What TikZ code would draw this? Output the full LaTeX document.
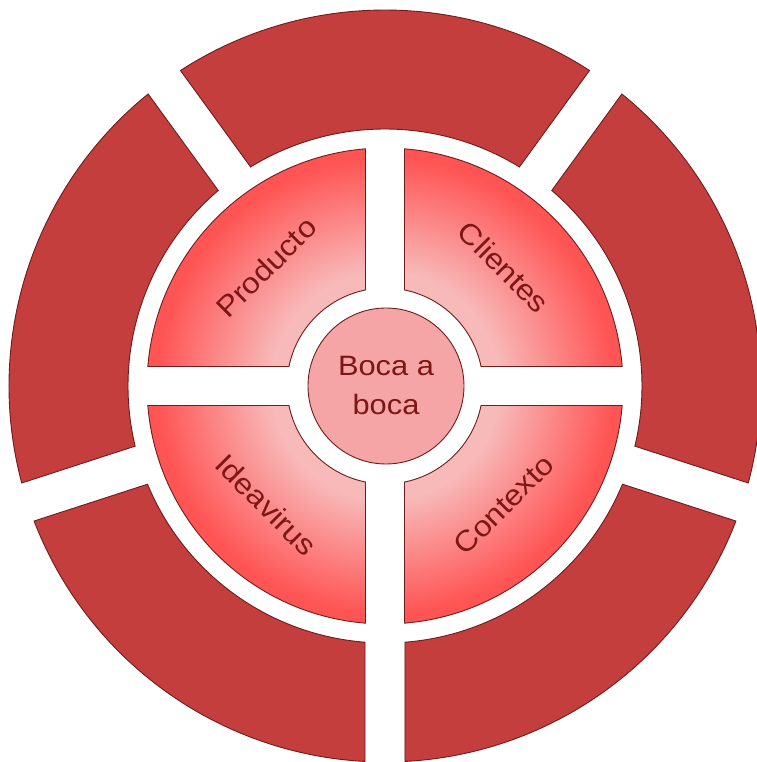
\documentclass[tikz,border=0pt]{standalone}
\usepackage{fontspec}
\setmainfont[FakeStretch=1.1]{Liberation Sans}
\definecolor{ringred}{RGB}{196,62,62}
\definecolor{ringline}{RGB}{110,28,28}
\definecolor{seclight}{RGB}{248,185,185}
\definecolor{secred}{RGB}{255,84,84}
\definecolor{hubfill}{RGB}{245,165,165}
\definecolor{txtred}{RGB}{125,22,22}
\pgfdeclareradialshading{secshade}{\pgfpoint{0bp}{0bp}}{%
  color(0bp)=(seclight); color(12bp)=(seclight); color(24bp)=(secred); color(50bp)=(secred)}
\tikzset{
  ringseg/.style={fill=ringred, draw=ringline, line width=0.9pt},
  secline/.style={draw=ringline, line width=0.9pt},
  seclabel/.style={font=\fontsize{29}{34}\selectfont, text=txtred},
  hub/.style={circle, fill=hubfill, draw=ringline, line width=0.9pt, minimum size=156pt, inner sep=0pt, align=center,
    font=\fontsize{28}{39}\selectfont, text=txtred}
}
\begin{document}
\begin{tikzpicture}[x=1pt,y=1pt]
\useasboundingbox (-385,-376) rectangle (371,386);
\pgfmathsetmacro{\Ro}{376}
\pgfmathsetmacro{\Ri}{257}
\pgfmathsetmacro{\ao}{asin(20/376)}
\pgfmathsetmacro{\ai}{asin(20/257)}
% outer ring: five segments
\foreach \phi in {90,162,234,306,18}{
  \draw[ringseg] (\phi-36+\ao:\Ro) arc[start angle=\phi-36+\ao, end angle=\phi+36-\ao, radius=\Ro]
    -- (\phi+36-\ai:\Ri) arc[start angle=\phi+36-\ai, end angle=\phi-36+\ai, radius=\Ri] -- cycle;
}
% inner sectors
\pgfmathsetmacro{\So}{238}
\pgfmathsetmacro{\Si}{98}
\pgfmathsetmacro{\bo}{asin(19.5/238)}
\pgfmathsetmacro{\bi}{asin(19.5/98)}
\foreach \phi in {45,135,225,315}{
  \begin{scope}
    \clip (\phi-45+\bo:\So) arc[start angle=\phi-45+\bo, end angle=\phi+45-\bo, radius=\So]
      -- (\phi+45-\bi:\Si) arc[start angle=\phi+45-\bi, end angle=\phi-45+\bi, radius=\Si] -- cycle;
    \shade[shading=secshade] (0,0) circle (\So);
  \end{scope}
  \draw[secline] (\phi-45+\bo:\So) arc[start angle=\phi-45+\bo, end angle=\phi+45-\bo, radius=\So]
      -- (\phi+45-\bi:\Si) arc[start angle=\phi+45-\bi, end angle=\phi-45+\bi, radius=\Si] -- cycle;
}
% labels
\node[seclabel, rotate=45] (producto) at (135:168) {Producto};
\node[seclabel, rotate=-45] (clientes) at (45:168) {Clientes};
\node[seclabel, rotate=-45] (ideavirus) at (225:168) {Ideavirus};
\node[seclabel, rotate=45] (contexto) at (315:168) {Contexto};
% hub
\node[hub] (boca) at (1,0) {Boca a\\boca};
\end{tikzpicture}
\end{document}
